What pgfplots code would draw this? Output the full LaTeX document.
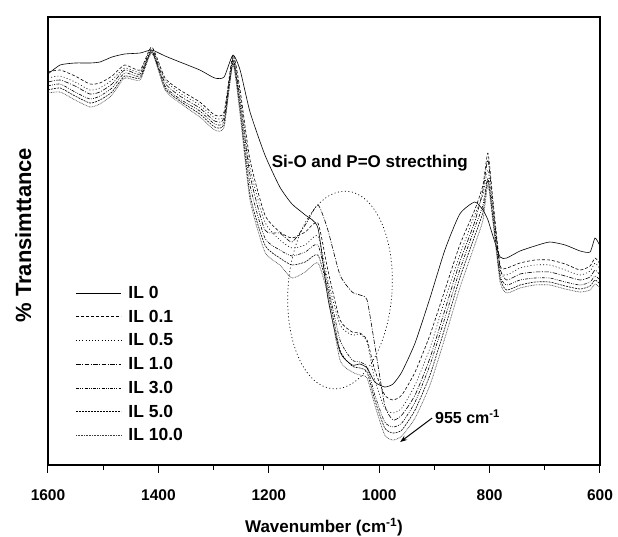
\documentclass[border=0pt]{standalone}
\usepackage{fontspec}
\setmainfont{Liberation Sans}
\usepackage{pgfplots}
\pgfplotsset{compat=1.18}
\usepackage{pgfplotstable}
\usetikzlibrary{arrows.meta}

\pgfplotstableread{
w c0 c1 c2 c3 c4 c5 c6
1600 74 72 78 82 86 90 93
1578 65 70 76 80 84 88 92
1551 63 76 82 86 92 96 100
1524 63 84 90 94 99 103 107
1506 62 83 88 92 96 100 104
1484 57 76 80 84 88 92 95
1461 54 65 68 70 73 76 78
1433 53 70 72 74 76 78 80
1412 50 47 49 50 51 52 53
1388 56 78 80 83 86 88 90
1361 62 90 93 96 99 101 103
1325 70 102 105 108 111 114 117
1298 78 115 118 121 124 127 130
1281 77 112 115 118 121 124 127
1265 55 55 57 59 61 63 65
1252 70 90 95 100 105 110 115
1234 112 160 168 175 185 195 200
1207 155 215 222 230 238 245 252
1180 187 232 240 233 250 258 265
1158 204 238 248 242 256 265 278
1134 215 232 245 225 252 262 272
1111 228 223 236 205 245 255 263
1093 298 270 280 230 285 290 295
1071 352 320 325 275 340 350 360
1049 365 332 335 292 360 366 372
1035 364 333 334 295 362 368 375
1022 368 340 342 300 367 372 378
1008 382 370 380 345 395 400 405
990 387 395 408 405 422 428 435
975 384 400 413 420 427 433 440
959 372 395 408 415 423 430 436
935 343 372 385 395 402 410 418
908 298 335 348 358 365 375 385
881 250 290 300 310 318 328 338
854 214 245 255 262 270 278 288
827 202 210 215 222 228 236 245
812 210 185 195 190 205 212 220
803 220 153 170 160 178 180 185
794 236 200 210 205 215 218 222
781 257 265 270 268 275 278 282
769 258 268 275 280 285 290 293
745 251 263 268 274 280 285 288
718 246 260 265 272 278 282 285
691 242 260 265 272 278 282 285
663 245 264 270 276 282 286 289
636 251 270 275 280 285 289 292
618 252 266 271 277 282 286 290
609 238 258 263 270 276 280 284
600 246 264 269 275 280 284 288
}\ftir

\begin{document}
\begin{tikzpicture}
\useasboundingbox (-48pt,-71pt) rectangle (570pt,465pt);
\begin{axis}[
  scale only axis, width=552pt, height=448pt,
  x dir=reverse, y dir=reverse,
  xmin=600, xmax=1600, ymin=17, ymax=465,
  xtick={600,800,...,1600}, minor x tick num=1,
  ytick=\empty,
  xtick pos=left, tick align=outside,
  major tick length=8pt, minor tick length=5pt,
  every tick/.style={line width=1pt, black},
  axis line style={line width=1.3pt},
  /pgf/number format/assume math mode=true,
  /pgf/number format/1000 sep={},
  xticklabel style={font=\bfseries\fontsize{15.5}{15.5}\selectfont, yshift=-13pt},
  xlabel={Wavenumber (cm\textsuperscript{-1})},
  xlabel style={font=\bfseries\fontsize{17}{17}\selectfont, at={(axis description cs:0.5,-0.138)}, anchor=center},
  ylabel={\% Transimttance},
  ylabel style={font=\bfseries\fontsize{22}{22}\selectfont, at={(axis description cs:-0.045,0.513)}, anchor=center, rotate=0},
  legend style={at={(axis description cs:0.05,0.404)}, anchor=north west, draw=none, fill=none,
    font=\bfseries\fontsize{17.5}{17.5}\selectfont, row sep=6pt, inner sep=0pt, cells={anchor=west}},
  legend image code/.code={\draw[#1] (0pt,0pt) -- (45pt,0pt); \path (50pt,0pt);},
  every axis plot/.append style={black, line width=0.6pt, line join=round, smooth, tension=0.35},
]
\addplot[solid] table[x=w, y=c0] {\ftir}; \addlegendentry{IL 0}
\addplot[dash pattern=on 3pt off 2pt] table[x=w, y=c1] {\ftir}; \addlegendentry{IL 0.1}
\addplot[dash pattern=on 1pt off 2.2pt] table[x=w, y=c2] {\ftir}; \addlegendentry{IL 0.5}
\addplot[dash pattern=on 4.5pt off 1.5pt on 1pt off 1.5pt] table[x=w, y=c3] {\ftir}; \addlegendentry{IL 1.0}
\addplot[dash pattern=on 3pt off 1.3pt on 0.8pt off 1.3pt on 0.8pt off 1.3pt] table[x=w, y=c4] {\ftir}; \addlegendentry{IL 3.0}
\addplot[dash pattern=on 2pt off 1pt] table[x=w, y=c5] {\ftir}; \addlegendentry{IL 5.0}
\addplot[dash pattern=on 0.8pt off 0.8pt, black!75] table[x=w, y=c6] {\ftir}; \addlegendentry{IL 10.0}

\node[font=\bfseries\fontsize{17}{17}\selectfont] at (axis cs:1017,163) {Si-O and P=O strecthing};
\node[font=\bfseries\fontsize{16}{16}\selectfont] at (axis cs:840,417) {955 cm\textsuperscript{-1}};
\draw[-{Stealth[length=7pt,width=5pt]}, line width=1pt] (axis cs:904,418) -- (axis cs:962,442);
\draw[dash pattern=on 1pt off 2.5pt, line width=0.7pt, rotate around={-4:(axis cs:1071,290)}] (axis cs:1071,290) ellipse [x radius=52pt, y radius=99pt];
\end{axis}
\end{tikzpicture}
\end{document}
